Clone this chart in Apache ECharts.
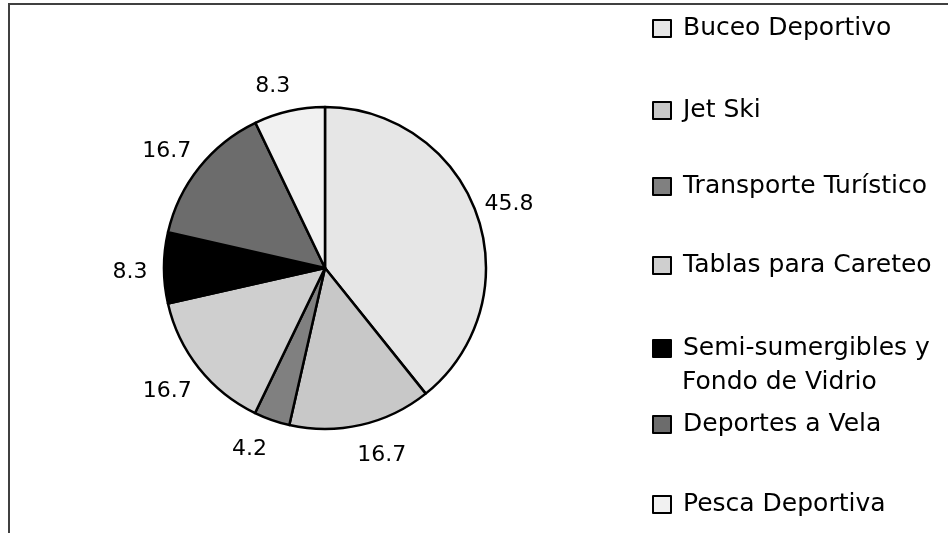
<!DOCTYPE html>
<html>
<head>
<meta charset="utf-8">
<script src="https://cdn.jsdelivr.net/npm/echarts@6/dist/echarts.min.js"></script>
<style>
  html, body { margin: 0; padding: 0; background: #fff; }
  #container { width: 948px; height: 533px; }
</style>
</head>
<body>
<div id="container"></div>
<script>
var dom = document.getElementById("container");
var myChart = echarts.init(dom);

// datos (porcentajes)
var categorias = [
    'Buceo Deportivo',
    'Jet Ski',
    'Transporte Turístico',
    'Tablas para Careteo',
    'Semi-sumergibles y Fondo de Vidrio',
    'Deportes a Vela',
    'Pesca Deportiva'
];
var valores = [45.8, 16.7, 4.2, 16.7, 8.3, 16.7, 8.3];
var colores = ['#e6e6e6', '#c8c8c8', '#808080', '#cfcfcf', '#000000', '#6c6c6c', '#f1f1f1'];

// posicion vertical de cada entrada de la leyenda
var leyendaTop = [12, 94, 170, 249, 332, 408, 488];
// pequeños ajustes de las etiquetas (como las coloca Excel)
var ajusteEtiqueta = [[0, 1], [13, -3], [-11, -3], [-5, 2], [0, 5], [-6, 5], [-9, 8]];

var fuente = 'DejaVu Sans';

var data = categorias.map(function (c, i) {
    return { name: c, value: valores[i], itemStyle: { color: colores[i] } };
});

var legends = categorias.map(function (c, i) {
    return {
        orient: 'vertical',
        left: 652,
        top: leyendaTop[i],
        padding: 0,
        data: [c],
        icon: 'rect',
        itemWidth: 18,
        itemHeight: 17,
        selectedMode: false,
        itemStyle: { borderColor: '#000', borderWidth: 2 },
        formatter: function (name) {
            // la segunda linea se escribe aparte
            return name.replace(' Fondo de Vidrio', '');
        },
        textStyle: {
            fontFamily: fuente,
            fontSize: 25,
            color: '#000',
            lineHeight: 33,
            padding: [0, 0, 0, 7]
        }
    };
});

option = {
    backgroundColor: '#fff',
    animation: false,
    legend: legends,
    graphic: [{
        type: 'rect',
        shape: { x: 9, y: 4, width: 1200, height: 800 },
        style: { fill: 'none', stroke: '#404040', lineWidth: 2 },
        silent: true
    }, {
        type: 'text',
        left: 682,
        top: 370,
        silent: true,
        style: {
            text: 'Fondo de Vidrio',
            fontFamily: fuente,
            fontSize: 25,
            fill: '#000'
        }
    }],
    series: [{
        name: 'torta',
        type: 'pie',
        center: [325, 268],
        radius: 161,
        startAngle: 90,
        clockwise: true,
        label: { show: false },
        labelLine: { show: false },
        itemStyle: { borderColor: '#000', borderWidth: 2.5 },
        emphasis: { disabled: true },
        data: data
    }, {
        // anillo invisible solo para ubicar las etiquetas
        name: 'etiquetas',
        type: 'pie',
        center: [325, 268],
        radius: [161, 223],
        startAngle: 90,
        clockwise: true,
        silent: true,
        itemStyle: { color: 'rgba(0,0,0,0)', borderWidth: 0 },
        emphasis: { disabled: true },
        label: {
            show: true,
            position: 'inside',
            fontFamily: fuente,
            fontSize: 22,
            color: '#000',
            formatter: function (p) { return p.value.toFixed(1); }
        },
        labelLine: { show: false },
        data: categorias.map(function (c, i) {
            return { name: c, value: valores[i], label: { offset: ajusteEtiqueta[i] } };
        })
    }]
};

if (option && typeof option === "object") {
    myChart.setOption(option, true);
}
</script>
</body>
</html>
